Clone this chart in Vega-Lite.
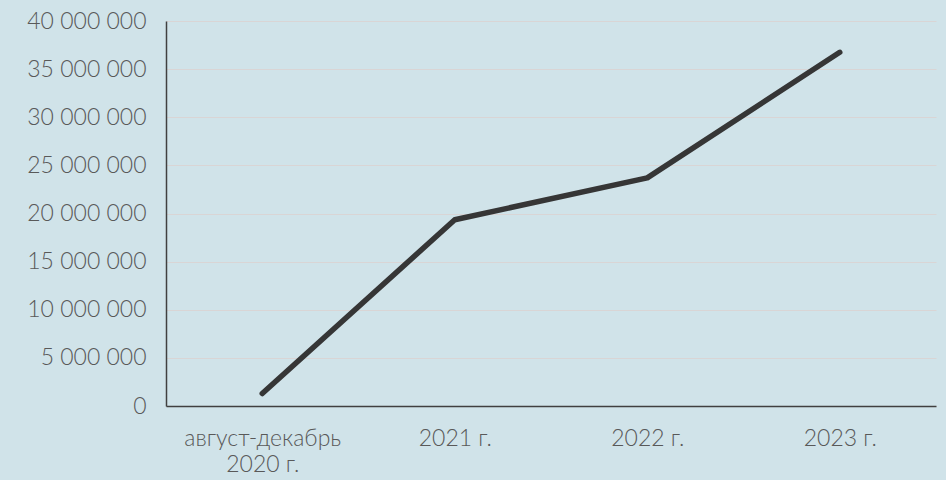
{
  "$schema": "https://vega.github.io/schema/vega-lite/v6.json",
  "autosize": "none",
  "width": 770,
  "height": 385,
  "padding": {"left": 166, "top": 21, "right": 10, "bottom": 74},
  "background": "#d0e3e9",
  "config": {
    "view": {"stroke": null},
    "font": "Lato"
  },
  "data": {
    "values": [
      {"period": "август-декабрь 2020 г.", "value": 1300000},
      {"period": "2021 г.", "value": 19350000},
      {"period": "2022 г.", "value": 23700000},
      {"period": "2023 г.", "value": 36750000}
    ]
  },
  "mark": {"type": "line", "color": "#363636", "strokeWidth": 5.5, "strokeCap": "round", "strokeJoin": "round"},
  "encoding": {
    "x": {
      "field": "period",
      "type": "ordinal",
      "sort": null,
      "scale": {"padding": 0.5},
      "axis": {
        "title": null,
        "labelAngle": 0,
        "labelFontSize": 23,
        "labelFontWeight": 300,
        "labelColor": "#595959",
        "labelPadding": 21,
        "labelLineHeight": 26,
        "ticks": false,
        "grid": false,
        "domainColor": "#404040",
        "domainWidth": 1.5,
        "labelExpr": "datum.label == 'август-декабрь 2020 г.' ? ['август-декабрь', '2020 г.'] : datum.label"
      }
    },
    "y": {
      "field": "value",
      "type": "quantitative",
      "scale": {"domain": [0, 40000000], "nice": false},
      "axis": {
        "title": null,
        "values": [0, 5000000, 10000000, 15000000, 20000000, 25000000, 30000000, 35000000, 40000000],
        "labelFontSize": 23,
        "labelFontWeight": 300,
        "labelColor": "#595959",
        "labelPadding": 20,
        "ticks": false,
        "grid": true,
        "gridColor": "#d9d5d5",
        "gridWidth": 1.2,
        "domainColor": "#404040",
        "domainWidth": 1.5,
        "labelExpr": "replace(format(datum.value, ','), regexp(',', 'g'), ' ')"
      }
    }
  }
}
